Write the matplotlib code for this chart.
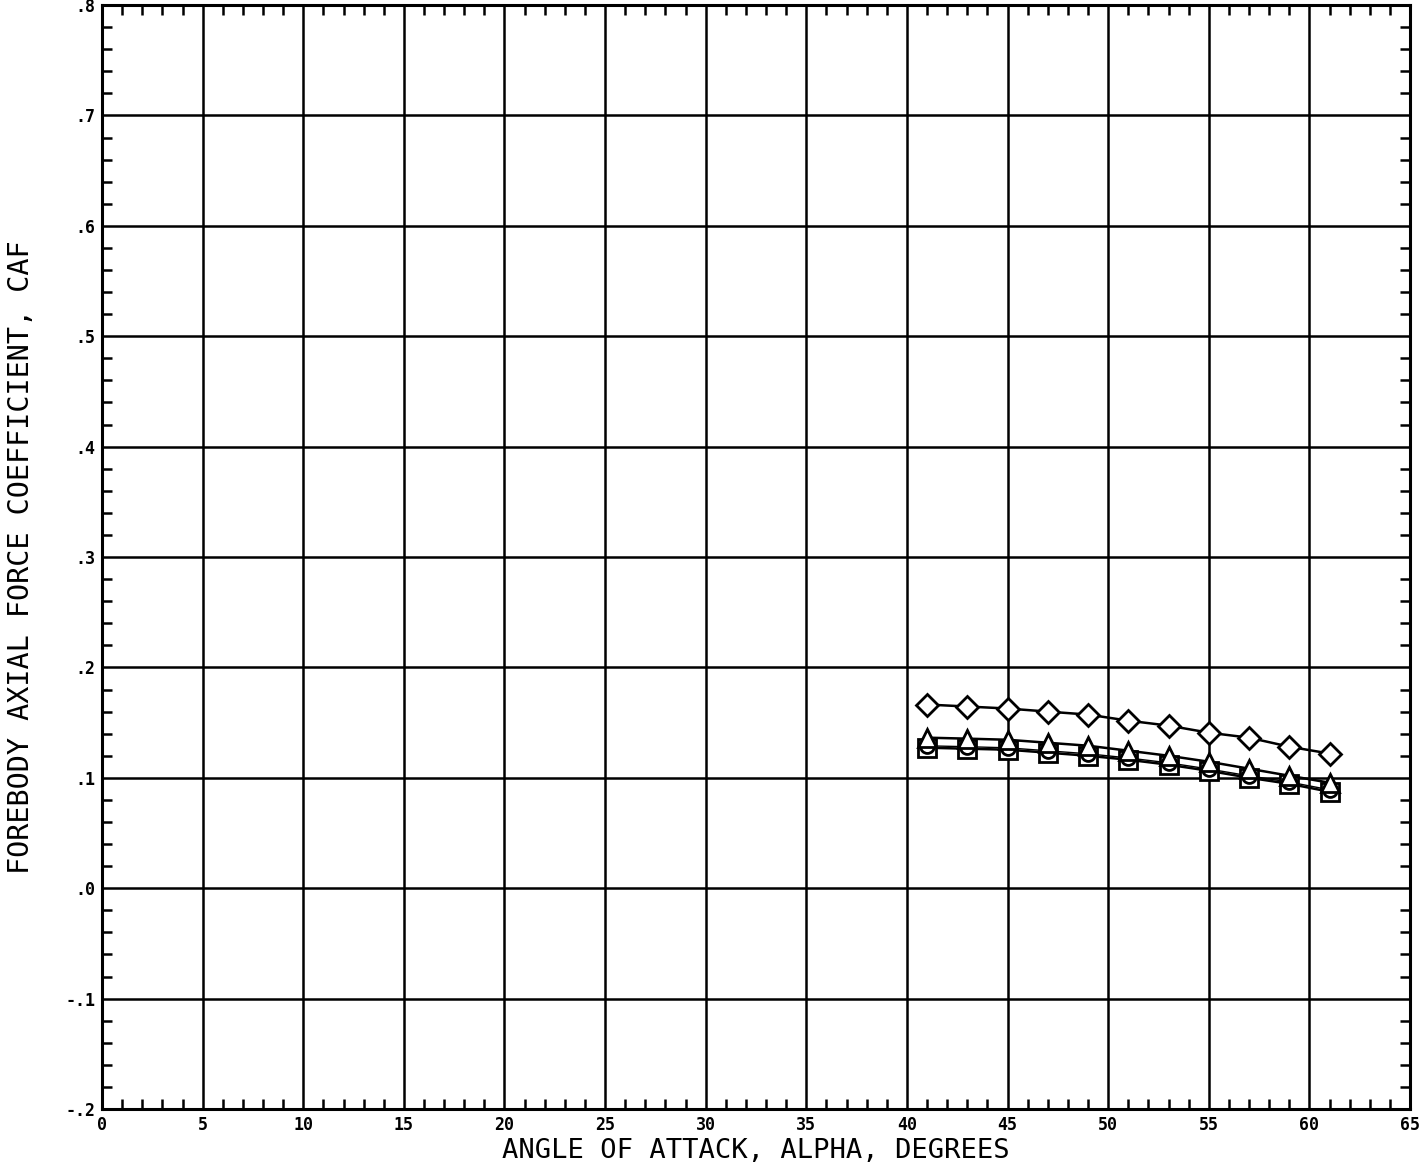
import matplotlib
matplotlib.use("Agg")
import matplotlib.pyplot as plt
from matplotlib.ticker import MultipleLocator, FixedLocator

alpha = [41, 43, 45, 47, 49, 51, 53, 55, 57, 59, 61]
caf_diamond = [0.1664, 0.1646, 0.1628, 0.1600, 0.1573, 0.1518, 0.1473, 0.1409, 0.1364, 0.1282, 0.1220]
caf_triangle = [0.1364, 0.1355, 0.1345, 0.1318, 0.1291, 0.1246, 0.1200, 0.1146, 0.1083, 0.1019, 0.0956]
caf_circle = [0.1290, 0.1282, 0.1272, 0.1245, 0.1218, 0.1180, 0.1136, 0.1080, 0.1018, 0.0962, 0.0892]
caf_square = [0.1273, 0.1264, 0.1255, 0.1228, 0.1200, 0.1164, 0.1119, 0.1064, 0.1001, 0.0946, 0.0874]

x_ticks = [0, 5, 10, 15, 20, 25, 30, 35, 40, 45, 50, 55, 60, 65]
x_tick_labels = ["0", "5", "10", "15", "20", "25", "30", "35", "40", "45", "50", "55", "60", "65"]
y_ticks = [-0.2, -0.1, 0.0, 0.1, 0.2, 0.3, 0.4, 0.5, 0.6, 0.7, 0.8]
y_tick_labels = ["-.2", "-.1", ".0", ".1", ".2", ".3", ".4", ".5", ".6", ".7", ".8"]

fig = plt.figure(figsize=(14.25, 11.71), dpi=100)
ax = fig.add_axes([0.0716, 0.0529, 0.9179, 0.9428])

ax.set_xlim(0, 65)
ax.set_ylim(-0.2, 0.8)

ax.xaxis.set_major_locator(FixedLocator(x_ticks))
ax.yaxis.set_major_locator(FixedLocator(y_ticks))
ax.xaxis.set_minor_locator(MultipleLocator(1))
ax.yaxis.set_minor_locator(MultipleLocator(0.02))
ax.set_xticklabels(x_tick_labels, fontsize=12, fontweight="bold", family="DejaVu Sans Mono")
ax.set_yticklabels(y_tick_labels, fontsize=12, fontweight="bold", family="DejaVu Sans Mono")

ax.grid(True, which="major", color="black", linewidth=1.8)
ax.tick_params(which="major", length=0, pad=5)
ax.tick_params(which="minor", direction="in", length=7, width=1.8,
               top=True, right=True, bottom=True, left=True)
for s in ax.spines.values():
    s.set_linewidth(2.2)

mk = dict(color="black", linewidth=1.8, markersize=13, markerfacecolor="white",
          markeredgecolor="black", markeredgewidth=2.0)
ax.plot(alpha, caf_square, marker="s", zorder=3, **mk)
ax.plot(alpha, caf_circle, marker="o", zorder=4, **{**mk, "markersize": 10, "linewidth": 1.0})
ax.plot(alpha, caf_triangle, marker="^", zorder=5, **mk)
ax.plot(alpha, caf_diamond, marker="D", zorder=5, **{**mk, "markersize": 11})

ax.set_xlabel("ANGLE OF ATTACK, ALPHA, DEGREES", fontsize=19.5, family="DejaVu Sans Mono", labelpad=3)
ax.set_ylabel("FOREBODY AXIAL FORCE COEFFICIENT, CAF", fontsize=20.5, family="DejaVu Sans Mono", labelpad=22)

fig.savefig("out.png", dpi=100)
